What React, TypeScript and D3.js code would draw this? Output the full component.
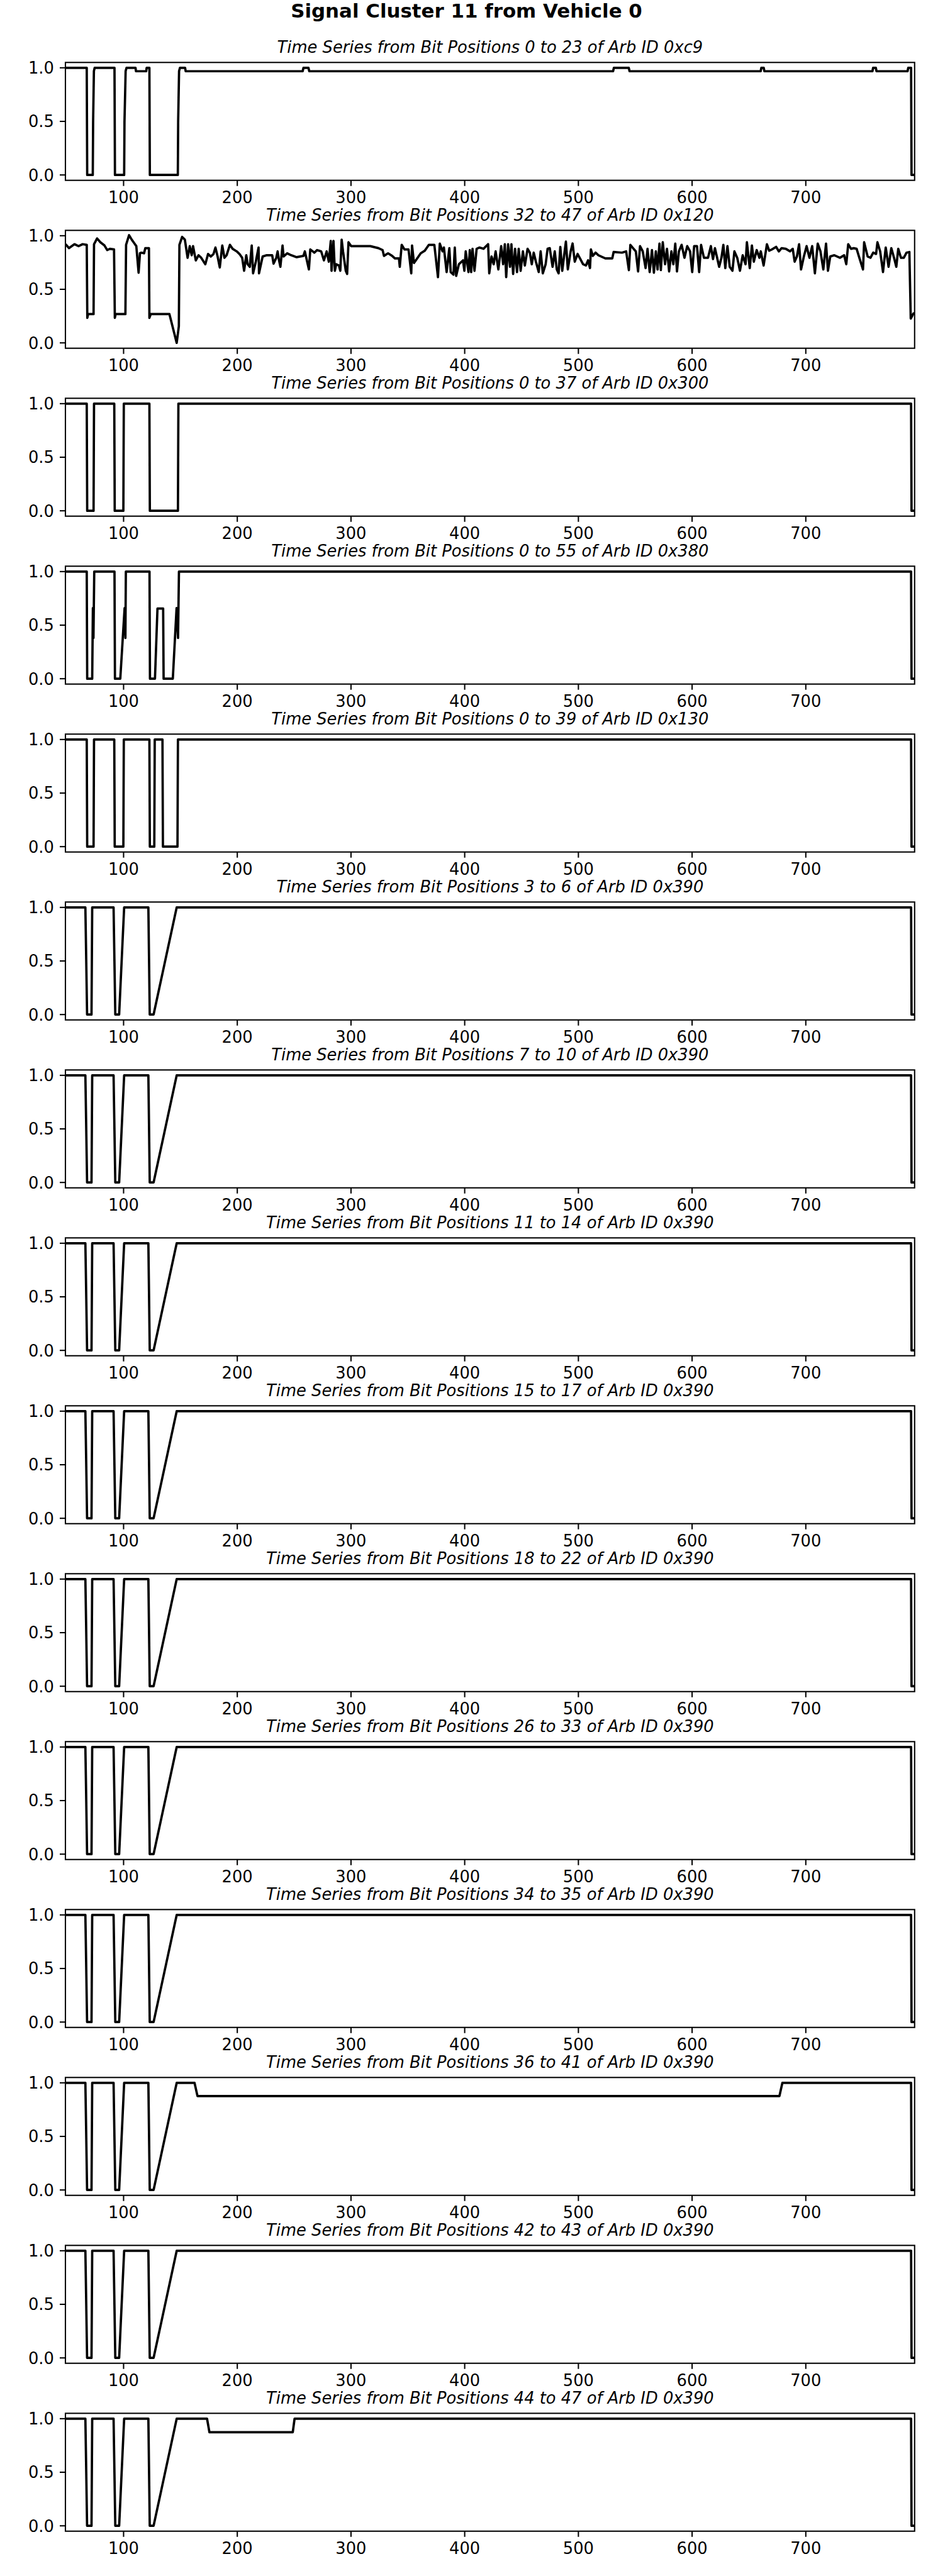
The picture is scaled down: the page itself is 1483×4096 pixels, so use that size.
import * as d3 from 'd3';

// reference figure is 2400 x 6630, drawn at window scale
const FIG_W = 2400;
const FIG_H = 6630;
const S = 1483 / FIG_W;

const X_DOMAIN: [number, number] = [48.85, 795.7];
const Y_DOMAIN: [number, number] = [-0.05, 1.05];
const X_TICKS = [100, 200, 300, 400, 500, 600, 700];
const Y_TICKS = [0, 0.5, 1];

const SUPTITLE = 'Signal Cluster 11 from Vehicle 0';

type Pt = [number, number];

const arb0xc9: Pt[] = [
  [48.85, 1], [67.6, 1], [68.0, 0], [72.9, 0], [73.2, 0.5], [73.9, 0.97], [74.6, 1],
  [92.0, 1], [92.4, 0], [100.5, 0], [100.8, 0.5], [101.8, 0.97], [102.6, 1],
  [110.5, 1], [110.9, 0.968], [119.9, 0.968], [120.3, 1], [122.7, 1], [123.1, 0],
  [147.7, 0], [148.0, 0.5], [148.8, 0.97], [149.6, 1], [154.1, 1], [154.6, 0.968],
  [257.5, 0.968], [258.2, 1], [262.6, 1], [263.3, 0.968],
  [530.5, 0.968], [531.2, 1], [544.3, 1], [545.0, 0.968],
  [660.3, 0.968], [660.9, 1], [663.0, 1], [663.6, 0.968],
  [758.6, 0.968], [759.2, 1], [761.6, 1], [762.2, 0.968],
  [789.5, 0.968], [790.1, 1], [792.6, 1], [793.0, 0], [795.7, 0],
];

const arb0x120: Pt[] = [
  [48.9, 0.921], [52.0, 0.884], [56.8, 0.921], [60.4, 0.903], [64.0, 0.921], [67.6, 0.915],
  [68.1, 0.233], [68.8, 0.269], [73.6, 0.269], [74.0, 0.921], [76.7, 0.975], [79.6, 0.939],
  [83.2, 0.909], [85.6, 0.866], [88.0, 0.878], [91.6, 0.872], [92.3, 0.233], [93.0, 0.269],
  [101.6, 0.269], [102.2, 0.915], [104.8, 1.005], [107.2, 0.963], [109.6, 0.927], [111.2, 0.903],
  [113.2, 0.655], [114.4, 0.836], [115.6, 0.842], [118.0, 0.836], [119.1, 0.884], [122.3, 0.884],
  [122.7, 0.233], [123.9, 0.269], [140.3, 0.269], [146.7, 0.0], [148.6, 0.155], [149.1, 0.915],
  [151.5, 0.989], [153.9, 0.963], [156.3, 0.794], [158.2, 0.903], [159.9, 0.818], [161.1, 0.903],
  [163.5, 0.77], [165.9, 0.818], [168.3, 0.794], [171.9, 0.734], [174.3, 0.83], [176.7, 0.806],
  [179.1, 0.83], [180.8, 0.89], [182.7, 0.806], [184.6, 0.704], [186.8, 0.909], [188.7, 0.794],
  [190.6, 0.818], [193.5, 0.915], [195.9, 0.878], [199.5, 0.854], [201.9, 0.83], [204.3, 0.794],
  [206.0, 0.673], [207.9, 0.818], [209.1, 0.734], [211.0, 0.71], [212.7, 0.909], [213.9, 0.649],
  [216.3, 0.758], [218.7, 0.89], [219.1, 0.649], [222.3, 0.806], [225.9, 0.818], [230.7, 0.818],
  [231.9, 0.74], [234.3, 0.794], [235.5, 0.854], [236.6, 0.776], [237.9, 0.71], [239.8, 0.909],
  [240.7, 0.806], [243.8, 0.836], [247.4, 0.818], [252.2, 0.8], [258.2, 0.812], [259.4, 0.854],
  [263.0, 0.685], [264.2, 0.872], [267.8, 0.842], [270.2, 0.866], [273.8, 0.854], [276.2, 0.77],
  [278.6, 0.854], [280.5, 0.758], [282.2, 0.951], [282.9, 0.673], [284.6, 0.951], [285.8, 0.673],
  [287.0, 0.734], [289.4, 0.722], [290.6, 0.673], [291.8, 0.963], [293.0, 0.854], [295.4, 0.673],
  [296.6, 0.643], [297.8, 0.939], [300.2, 0.903], [317.0, 0.903], [324.2, 0.884], [327.8, 0.866],
  [329.0, 0.812], [332.6, 0.836], [336.2, 0.812], [338.6, 0.788], [342.2, 0.788], [342.9, 0.71],
  [344.6, 0.915], [347.0, 0.872], [350.6, 0.872], [353.0, 0.649], [353.7, 0.909], [355.4, 0.746],
  [357.8, 0.782], [361.3, 0.836], [364.9, 0.86], [368.5, 0.915], [373.3, 0.915], [376.5, 0.613],
  [378.1, 0.927], [380.5, 0.854], [381.7, 0.89], [384.1, 0.661], [386.5, 0.884], [387.7, 0.661],
  [390.1, 0.637], [391.3, 0.89], [392.5, 0.625], [394.9, 0.734], [398.5, 0.77], [399.7, 0.673],
  [400.9, 0.854], [403.3, 0.661], [404.5, 0.866], [405.7, 0.661], [406.9, 0.878], [408.6, 0.673],
  [410.5, 0.878], [412.9, 0.89], [416.5, 0.878],
  [420.6, 0.921], [421.6, 0.649], [423.6, 0.806], [425.5, 0.734], [427.2, 0.854], [429.6, 0.685],
  [432.1, 0.903], [433.8, 0.734], [435.3, 0.921], [436.5, 0.613], [438.2, 0.921], [439.9, 0.71],
  [441.1, 0.921], [442.6, 0.643], [444.3, 0.878], [446.0, 0.661], [447.5, 0.878], [449.2, 0.673],
  [451.2, 0.854], [452.9, 0.722], [455.3, 0.878], [457.3, 0.842], [459.0, 0.734], [460.7, 0.842],
  [462.6, 0.758], [465.1, 0.661], [466.8, 0.854], [468.7, 0.649], [471.2, 0.734], [472.9, 0.878],
  [474.8, 0.884], [477.3, 0.71], [479.2, 0.854], [481.0, 0.685], [482.6, 0.649], [484.1, 0.896],
  [485.8, 0.673], [487.5, 0.818], [489.0, 0.945], [490.7, 0.685], [493.2, 0.854], [494.9, 0.927],
  [496.8, 0.758], [499.3, 0.83], [501.7, 0.782], [504.1, 0.734], [506.6, 0.722], [508.5, 0.77],
  [510.2, 0.698], [511.0, 0.872], [512.7, 0.812], [515.1, 0.842], [517.6, 0.818], [523.7, 0.788],
  [529.8, 0.788], [531.0, 0.848], [538.3, 0.842], [542.0, 0.854], [544.4, 0.679], [545.7, 0.915],
  [548.1, 0.884], [550.5, 0.854], [552.5, 0.667], [554.2, 0.903], [556.6, 0.854], [559.1, 0.698],
  [560.8, 0.878], [562.7, 0.661], [564.7, 0.866], [566.4, 0.655], [568.1, 0.854], [569.6, 0.685],
  [571.3, 0.927], [572.5, 0.679], [574.2, 0.939], [576.2, 0.734], [577.9, 0.878], [579.8, 0.667],
  [581.8, 0.854], [583.5, 0.734], [585.2, 0.927], [586.7, 0.667], [588.4, 0.854], [590.8, 0.915],
  [593.3, 0.794], [595.7, 0.903], [598.2, 0.854], [600.1, 0.661], [601.8, 0.903], [604.3, 0.903],
  [606.2, 0.661], [607.9, 0.915], [610.4, 0.794], [614.0, 0.794], [616.5, 0.903], [618.4, 0.782],
  [620.1, 0.884], [623.8, 0.71], [625.8, 0.794], [627.5, 0.915], [629.2, 0.698], [631.1, 0.903],
  [633.1, 0.71], [635.5, 0.673], [637.2, 0.854], [639.7, 0.794], [642.1, 0.673], [644.5, 0.818],
  [647.0, 0.734], [648.2, 0.939], [650.7, 0.698], [652.6, 0.909], [654.3, 0.758], [656.8, 0.866],
  [659.2, 0.794], [660.4, 0.854], [662.9, 0.722], [665.8, 0.921], [667.8, 0.86], [670.2, 0.872],
  [673.9, 0.896], [676.3, 0.854], [678.7, 0.884], [682.4, 0.878], [686.1, 0.854], [688.5, 0.878],
  [690.2, 0.758], [692.2, 0.806], [694.1, 0.921], [695.8, 0.685], [698.3, 0.806], [700.7, 0.903],
  [703.2, 0.794], [705.6, 0.903], [708.0, 0.649], [710.5, 0.927], [712.9, 0.854], [715.4, 0.685],
  [717.8, 0.927], [719.5, 0.673], [721.5, 0.806], [725.1, 0.818], [730.0, 0.794], [733.7, 0.818],
  [735.6, 0.734], [737.3, 0.921], [739.8, 0.878], [742.2, 0.884], [744.7, 0.878], [747.1, 0.794],
  [750.3, 0.685], [751.3, 0.939], [754.4, 0.806], [756.9, 0.794], [759.3, 0.842], [761.8, 0.83],
  [763.0, 0.939], [765.4, 0.854], [767.9, 0.661], [770.3, 0.89], [772.8, 0.71], [775.2, 0.884],
  [777.6, 0.794], [779.6, 0.71], [781.3, 0.878], [783.7, 0.794], [786.2, 0.794], [788.6, 0.842],
  [791.1, 0.848], [792.3, 0.227], [794.7, 0.275], [795.7, 0.275],
];

const arb0x300: Pt[] = [
  [48.85, 1], [67.6, 1], [68.0, 0], [73.6, 0], [74.0, 1], [91.8, 1], [92.2, 0], [99.8, 0],
  [100.2, 1], [122.7, 1], [123.1, 0], [147.8, 0], [148.2, 1], [792.6, 1], [793.0, 0], [795.7, 0],
];

const arb0x380: Pt[] = [
  [48.85, 1], [67.6, 1], [68.0, 0], [72.4, 0], [73.0, 0.66], [73.5, 0.38], [74.2, 1],
  [92.0, 1], [92.4, 0], [97.1, 0], [100.9, 0.66], [101.6, 0.38], [102.0, 1],
  [122.8, 1], [123.2, 0], [127.6, 0], [129.8, 0.655], [134.8, 0.655], [135.2, 0],
  [143.3, 0], [146.6, 0.66], [147.9, 0.38], [148.7, 1], [792.6, 1], [793.0, 0], [795.7, 0],
];

const arb0x130: Pt[] = [
  [48.85, 1], [67.6, 1], [68.0, 0], [73.6, 0], [74.0, 1], [91.8, 1], [92.2, 0], [99.8, 0],
  [100.2, 1], [122.7, 1], [123.1, 0], [127.0, 0], [127.4, 1], [134.2, 1], [134.6, 0],
  [147.4, 0], [147.8, 1], [792.6, 1], [793.0, 0], [795.7, 0],
];

const arb0x390: Pt[] = [
  [48.85, 1], [66.4, 1], [67.9, 0], [71.8, 0], [72.4, 1], [91.2, 1], [92.7, 0], [96.1, 0],
  [100.5, 1], [121.8, 1], [123.0, 0], [126.4, 0], [146.7, 1], [792.6, 1], [793.0, 0], [795.7, 0],
];

const arb0x390b36: Pt[] = [
  [48.85, 1], [66.4, 1], [67.9, 0], [71.8, 0], [72.4, 1], [91.2, 1], [92.7, 0], [96.1, 0],
  [100.5, 1], [121.8, 1], [123.0, 0], [126.4, 0], [146.7, 1], [162.4, 1], [165.0, 0.876],
  [676.8, 0.876], [679.4, 1], [792.6, 1], [793.0, 0], [795.7, 0],
];

const arb0x390b44: Pt[] = [
  [48.85, 1], [66.4, 1], [67.9, 0], [71.8, 0], [72.4, 1], [91.2, 1], [92.7, 0], [96.1, 0],
  [100.5, 1], [121.8, 1], [123.0, 0], [126.4, 0], [146.7, 1], [173.4, 1], [175.5, 0.874],
  [248.8, 0.874], [250.4, 1], [792.6, 1], [793.0, 0], [795.7, 0],
];

const PANELS: { title: string; data: Pt[] }[] = [
  { title: 'Time Series from Bit Positions 0 to 23 of Arb ID 0xc9', data: arb0xc9 },
  { title: 'Time Series from Bit Positions 32 to 47 of Arb ID 0x120', data: arb0x120 },
  { title: 'Time Series from Bit Positions 0 to 37 of Arb ID 0x300', data: arb0x300 },
  { title: 'Time Series from Bit Positions 0 to 55 of Arb ID 0x380', data: arb0x380 },
  { title: 'Time Series from Bit Positions 0 to 39 of Arb ID 0x130', data: arb0x130 },
  { title: 'Time Series from Bit Positions 3 to 6 of Arb ID 0x390', data: arb0x390 },
  { title: 'Time Series from Bit Positions 7 to 10 of Arb ID 0x390', data: arb0x390 },
  { title: 'Time Series from Bit Positions 11 to 14 of Arb ID 0x390', data: arb0x390 },
  { title: 'Time Series from Bit Positions 15 to 17 of Arb ID 0x390', data: arb0x390 },
  { title: 'Time Series from Bit Positions 18 to 22 of Arb ID 0x390', data: arb0x390 },
  { title: 'Time Series from Bit Positions 26 to 33 of Arb ID 0x390', data: arb0x390 },
  { title: 'Time Series from Bit Positions 34 to 35 of Arb ID 0x390', data: arb0x390 },
  { title: 'Time Series from Bit Positions 36 to 41 of Arb ID 0x390', data: arb0x390b36 },
  { title: 'Time Series from Bit Positions 42 to 43 of Arb ID 0x390', data: arb0x390 },
  { title: 'Time Series from Bit Positions 44 to 47 of Arb ID 0x390', data: arb0x390b44 },
];

// layout in reference pixels (300 dpi)
const AX_LEFT = 168.3;
const AX_RIGHT = 2352.7;
const AX_TOP0 = 160.7;
const AX_STEP = 432.1;
const AX_H = 303.3;
const FONT = 41.67; // 10pt
const TICK = 14.6;
const LW = 3.33; // 0.8pt

export default function App() {
  const x = d3.scaleLinear().domain(X_DOMAIN).range([AX_LEFT, AX_RIGHT]);
  const fmtY = d3.format('.1f');

  return (
    <svg
      width={1483}
      height={4096}
      style={{ position: 'absolute', left: 0, top: 0, background: '#fff' }}
      fontFamily="'DejaVu Sans', sans-serif"
    >
      <g transform={`scale(${S})`}>
        <rect width={FIG_W} height={FIG_H} fill="#fff" />
        <text x={FIG_W / 2} y={46} textAnchor="middle" fontSize={50} fontWeight="bold">
          {SUPTITLE}
        </text>
        {PANELS.map((p, i) => {
          const top = AX_TOP0 + i * AX_STEP;
          const bottom = top + AX_H;
          const y = d3.scaleLinear().domain(Y_DOMAIN).range([bottom, top]);
          const line = d3
            .line<Pt>()
            .x((d) => x(d[0]))
            .y((d) => y(d[1]));
          const clipId = `clip-${i}`;
          return (
            <g key={i}>
              <defs>
                <clipPath id={clipId}>
                  <rect x={AX_LEFT} y={top} width={AX_RIGHT - AX_LEFT} height={AX_H} />
                </clipPath>
              </defs>
              <text
                x={(AX_LEFT + AX_RIGHT) / 2}
                y={top - 25}
                textAnchor="middle"
                fontSize={FONT}
                fontStyle="italic"
              >
                {p.title}
              </text>
              <path
                d={line(p.data) ?? ''}
                fill="none"
                stroke="#000"
                strokeWidth={6}
                strokeLinejoin="round"
                clipPath={`url(#${clipId})`}
              />
              <rect
                x={AX_LEFT}
                y={top}
                width={AX_RIGHT - AX_LEFT}
                height={AX_H}
                fill="none"
                stroke="#000"
                strokeWidth={LW}
              />
              {X_TICKS.map((t) => (
                <g key={`x${t}`}>
                  <line x1={x(t)} x2={x(t)} y1={bottom} y2={bottom + TICK} stroke="#000" strokeWidth={LW} />
                  <text x={x(t)} y={bottom + 59} textAnchor="middle" fontSize={FONT}>
                    {t}
                  </text>
                </g>
              ))}
              {Y_TICKS.map((t) => (
                <g key={`y${t}`}>
                  <line x1={AX_LEFT - TICK} x2={AX_LEFT} y1={y(t)} y2={y(t)} stroke="#000" strokeWidth={LW} />
                  <text x={AX_LEFT - 2 * TICK} y={y(t) + 15.2} textAnchor="end" fontSize={FONT}>
                    {fmtY(t)}
                  </text>
                </g>
              ))}
            </g>
          );
        })}
      </g>
    </svg>
  );
}
